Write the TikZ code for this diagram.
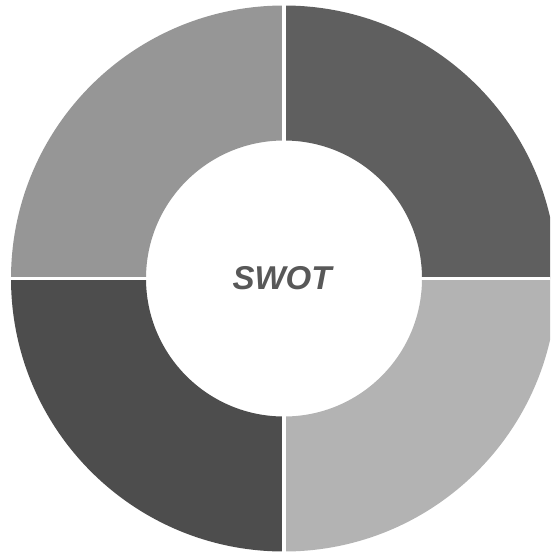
\documentclass[tikz,border=0pt]{standalone}
\usepackage{fontspec}
\setmainfont{Liberation Sans}
\definecolor{qTL}{HTML}{969696}
\definecolor{qTR}{HTML}{5F5F5F}
\definecolor{qBR}{HTML}{B3B3B3}
\definecolor{qBL}{HTML}{4D4D4D}
\definecolor{txt}{HTML}{585858}
\begin{document}
\begin{tikzpicture}[x=1pt,y=1pt,
  quad/.style={draw=none},
  gapline/.style={draw=white,line width=3.6pt}]
\useasboundingbox (0,0) rectangle (550,-554);
\clip (0,0) rectangle (550,-554);
\coordinate (c) at (284,-278.5);
\def\Ro{273}\def\Ri{138}
\fill[qTR] (c) ++(0:\Ro) arc[start angle=0,end angle=90,radius=\Ro] -- ++(0,-\Ro+\Ri) arc[start angle=90,end angle=0,radius=\Ri] -- cycle;
\fill[qTL] (c) ++(90:\Ro) arc[start angle=90,end angle=180,radius=\Ro] -- ++(\Ro-\Ri,0) arc[start angle=180,end angle=90,radius=\Ri] -- cycle;
\fill[qBL] (c) ++(180:\Ro) arc[start angle=180,end angle=270,radius=\Ro] -- ++(0,\Ro-\Ri) arc[start angle=270,end angle=180,radius=\Ri] -- cycle;
\fill[qBR] (c) ++(270:\Ro) arc[start angle=270,end angle=360,radius=\Ro] -- ++(-\Ro+\Ri,0) arc[start angle=360,end angle=270,radius=\Ri] -- cycle;
\draw[gapline] ([xshift=-280pt]c) -- ([xshift=280pt]c);
\draw[gapline] ([yshift=-280pt]c) -- ([yshift=280pt]c);
\node[text=txt,font=\fontsize{33}{36}\selectfont\bfseries\itshape] (swot) at (282,-278) {SWOT};
\end{tikzpicture}
\end{document}
